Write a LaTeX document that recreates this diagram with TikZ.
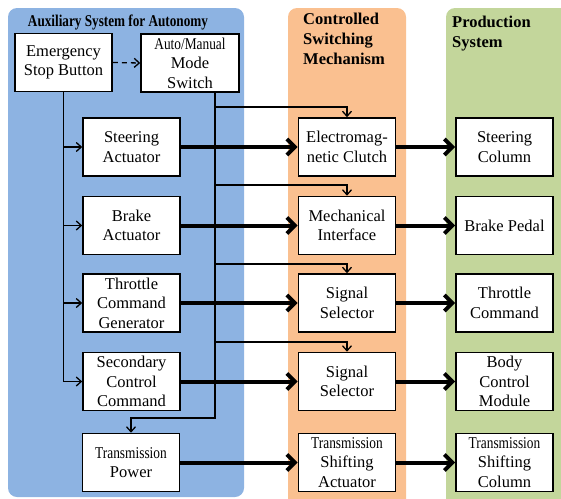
\documentclass[tikz,border=0pt]{standalone}
\usepackage{fontspec}
\setmainfont{Liberation Serif}
\usepackage{graphicx}
\usetikzlibrary{arrows.meta}
\definecolor{auxblue}{HTML}{8DB3E2}
\definecolor{csorange}{HTML}{FAC090}
\definecolor{prodgreen}{HTML}{C3D69B}
\newcommand{\cnd}[1]{\scalebox{0.81}[1]{#1}}
\begin{document}
\begin{tikzpicture}[x=1pt,y=-1pt,
  box/.style={draw, line width=1.6pt, fill=white, minimum width=97pt, minimum height=58pt,
    inner sep=0pt, align=center, font=\fontsize{16.5}{19.5}\selectfont},
  thinarrow/.style={line width=1.3pt, -{Straight Barb[length=5pt,width=9pt]}},
  thickarrow/.style={line width=4pt, -{Straight Barb[length=8pt,width=16pt]}},
  paneltitle/.style={font=\fontsize{16.5}{20}\selectfont\bfseries, align=left, inner sep=0pt}]
\useasboundingbox (0,0) rectangle (561,498);
% panels
\fill[auxblue, rounded corners=9pt] (8,8) rectangle (244,497);
\fill[csorange, rounded corners=9pt] (288,8) rectangle (406,515);
\fill[prodgreen, rounded corners=9pt] (446,8) rectangle (580,515);
% titles
\node[paneltitle] (t1) at (118,22) {\scalebox{0.8}[1]{Auxiliary System for Autonomy}};
\node[paneltitle, anchor=north west] (t2) at (303,12.5) {Controlled\\Switching\\Mechanism};
\node[paneltitle, anchor=north west] (t3) at (452,15.5) {Production\\System};
% left column
\node[box] (esb) at (63.5,62.5) {Emergency\\Stop Button};
\node[box, minimum width=98pt] (ams) at (190,63) {\cnd{Auto/Manual}\\Mode\\Switch};
\node[box] (sa)  at (131.5,147)   {Steering\\Actuator};
\node[box] (ba)  at (131.5,225.5) {Brake\\Actuator};
\node[box] (tcg) at (131.5,303)   {Throttle\\Command\\Generator};
\node[box] (scc) at (131.5,381.5) {Secondary\\Control\\Command};
\node[box] (tp)  at (131,462.5)   {\cnd{Transmission}\\Power};
% middle column
\node[box] (ec)  at (347,147)   {Electromag-\\netic Clutch};
\node[box] (mi)  at (347,225.5) {Mechanical\\Interface};
\node[box] (ss1) at (347,303)   {Signal\\Selector};
\node[box] (ss2) at (347,381.5) {Signal\\Selector};
\node[box] (tsa) at (347,462.5) {\cnd{Transmission}\\Shifting\\Actuator};
% right column
\node[box] (sc)  at (504.5,147)   {Steering\\Column};
\node[box] (bp)  at (504.5,225.5) {Brake Pedal};
\node[box] (tc)  at (504.5,303)   {Throttle\\Command};
\node[box] (bcm) at (504.5,381.5) {Body\\Control\\Module};
\node[box] (tsc) at (504.5,462.5) {\cnd{Transmission}\\Shifting\\Column};
% emergency stop connectors
\draw[thinarrow, dashed, dash pattern=on 5pt off 4pt] (esb.east) -- (ams.west);
\draw[thinarrow] (esb.south) |- (scc.west);
\draw[thinarrow] (esb.south |- sa.west) -- (sa.west);
\draw[thinarrow] (esb.south |- ba.west) -- (ba.west);
\draw[thinarrow] (esb.south |- tcg.west) -- (tcg.west);
% mode switch connectors
\coordinate (v0) at ([xshift=25pt]ams.south);
\coordinate (v1) at (215,418);
\coordinate (b1) at (215,107);
\coordinate (b2) at (215,185);
\coordinate (b3) at (215,264);
\coordinate (b4) at (215,342);
\draw[thinarrow] (v0) -- (v1) -| (tp.north);
\draw[thinarrow] (b1) -| (ec.north);
\draw[thinarrow] (b2) -| (mi.north);
\draw[thinarrow] (b3) -| (ss1.north);
\draw[thinarrow] (b4) -| (ss2.north);
% thick arrows
\draw[thickarrow] (sa.east) -- (ec.west);
\draw[thickarrow] (ba.east) -- (mi.west);
\draw[thickarrow] (tcg.east) -- (ss1.west);
\draw[thickarrow] (scc.east) -- (ss2.west);
\draw[thickarrow] (tp.east) -- (tsa.west);
\draw[thickarrow] (ec.east) -- (sc.west);
\draw[thickarrow] (mi.east) -- (bp.west);
\draw[thickarrow] (ss1.east) -- (tc.west);
\draw[thickarrow] (ss2.east) -- (bcm.west);
\draw[thickarrow] (tsa.east) -- (tsc.west);
\end{tikzpicture}
\end{document}
